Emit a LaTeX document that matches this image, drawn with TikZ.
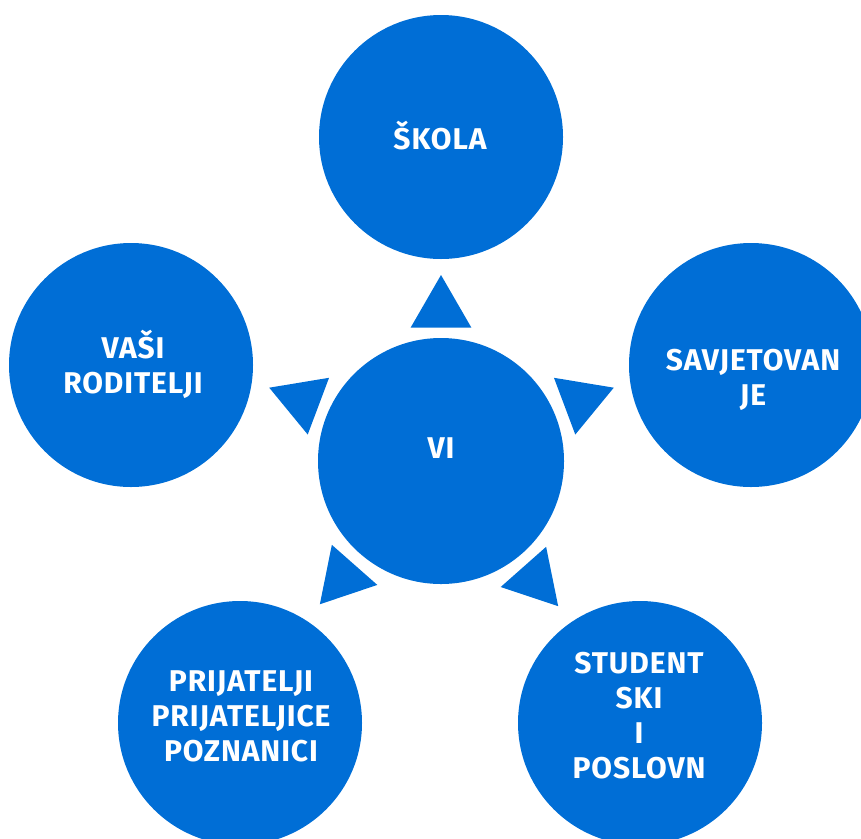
\documentclass[tikz,border=0pt]{standalone}
\usepackage{fontspec}
\setmainfont{Fira Sans}
\newfontfamily\bubblefont[LetterSpace=3]{Fira Sans}
\usepackage{xcolor}
\usetikzlibrary{shapes,positioning,calc}

\definecolor{ringblue}{RGB}{0,110,214}

\begin{document}
\begin{tikzpicture}[
    x=1pt, y=-1pt,
    bubble/.style={
        circle,
        fill=ringblue,
        inner sep=0pt,
        minimum size=244pt
    },
    wedge/.style={
        regular polygon,
        regular polygon sides=3,
        fill=ringblue,
        inner sep=0pt,
        minimum size=70pt
    },
    txt/.style={
        text=white,
        align=center,
        font=\bubblefont\bfseries\fontsize{30}{35}\selectfont
    }
]
\clip (0,0) rectangle (861,838);

% circles
\node[bubble, minimum size=246pt] (vi) at (441,461) {};
\node[bubble] (skola) at (441,137) {};
\node[bubble] (savjet) at (751,365) {};
\node[bubble] (roditelji) at (131,365) {};
\node[bubble] (prijatelji) at (240,723) {};
\node[bubble] (studentski) at (640,723) {};

% texts
\node[txt] (vi-t) at (441,448) {VI};
\node[txt] (skola-t) at (440,136) {ŠKOLA};
\node[txt] (savjet-t) at (753,380) {SAVJETOVAN\\JE};
\node[txt] (roditelji-t) at (133,364) {VAŠI\\RODITELJI};
\node[txt] (prijatelji-t) at (241,716) {PRIJATELJI\\PRIJATELJICE\\POZNANICI};
\node[txt] (studentski-t) at (639,716) {STUDENT\\SKI\\I\\POSLOVN};

% triangles between the hub and the circles
\node[wedge] (w-top) at (441,310) {};
\node[wedge, rotate=-69.4] (w-right) at (581,400) {};
\node[wedge, rotate=69.4] (w-left) at (302,400) {};
\node[wedge, rotate=-138.5] (w-bright) at (535,580) {};
\node[wedge, rotate=138.6] (w-bleft) at (343,578) {};

\end{tikzpicture}
\end{document}
